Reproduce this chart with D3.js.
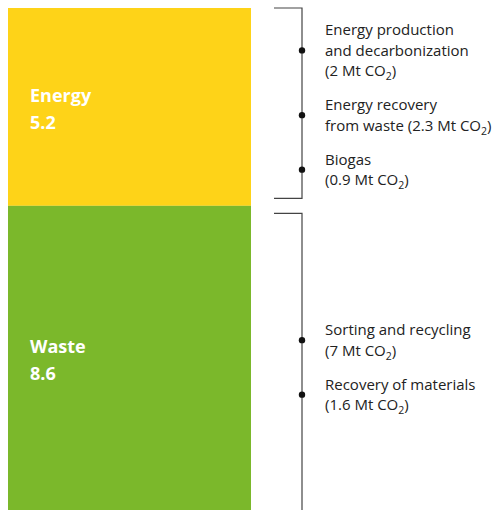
<!DOCTYPE html>
<html>
<head>
<meta charset="utf-8">
<script src="https://cdn.jsdelivr.net/npm/d3@7"></script>
<style>
  body { margin: 0; background: #fff; }
  svg { display: block; }
</style>
</head>
<body>
<div id="chart"></div>
<script>
// data
var categories = ["Energy", "Waste"];
var totals = [5.2, 8.6];
var colors = ["#fed318", "#7bb82b"];

var itemCategory = ["Energy", "Energy", "Energy", "Waste", "Waste"];
// "\n" marks a line break, the value text is appended at the end
var itemNames = [
  "Energy production\nand decarbonization\n",
  "Energy recovery\nfrom waste ",
  "Biogas\n",
  "Sorting and recycling\n",
  "Recovery of materials\n"
];
var itemValues = [2, 2.3, 0.9, 7, 1.6];

var width = 500, height = 510;
var barX = 8, barW = 243;
var bracketX0 = 274, bracketX1 = 302, textX = 325;
var lh = 20.5, blockStep = 34;

var svg = d3.select("#chart").append("svg")
  .attr("width", width)
  .attr("height", height);

// stacked segments
var stackEnd = d3.cumsum(totals);
var y = d3.scaleLinear()
  .domain([0, d3.sum(totals)])
  .range([8, 533]);

var segs = categories.map(function(c, i) {
  return {name: c, value: totals[i], y0: y(stackEnd[i] - totals[i]), y1: y(stackEnd[i]), color: colors[i], idx: i};
});

svg.append("g").selectAll("rect")
  .data(segs)
  .enter().append("rect")
  .attr("x", barX)
  .attr("y", function(d) { return d.y0; })
  .attr("width", barW)
  .attr("height", function(d) { return d.y1 - d.y0; })
  .attr("fill", function(d) { return d.color; });

// labels inside the bar, centered on the visible part
var inner = svg.append("g").selectAll("text")
  .data(segs)
  .enter().append("text")
  .attr("x", barX + 22)
  .attr("fill", "#fff")
  .style("font-family", "'Open Sans', sans-serif")
  .style("font-weight", 700)
  .style("font-size", "18px")
  .attr("y", function(d) {
    var mid = (d.y0 + Math.min(d.y1, height)) / 2;
    return mid - 5;
  });
inner.append("tspan").text(function(d) { return d.name; });
inner.append("tspan")
  .attr("x", barX + 22)
  .attr("dy", 27)
  .text(function(d) { return d3.format(".1f")(d.value); });

// brackets and item labels
segs.forEach(function(s, i) {
  var top = s.y0 + (i > 0 ? 7.5 : 0);
  var bot = Math.min(s.y1 - (i < segs.length - 1 ? 7.5 : 0), height + 2);
  var g = svg.append("g");

  var path = d3.path();
  path.moveTo(bracketX0, top);
  path.lineTo(bracketX1, top);
  path.lineTo(bracketX1, bot);
  if (bot < height) path.lineTo(bracketX0, bot);
  g.append("path")
    .attr("d", path.toString())
    .attr("fill", "none")
    .attr("stroke", "#444")
    .attr("stroke-width", 1.2);

  // line layout for this category
  var items = [];
  itemNames.forEach(function(n, k) {
    if (itemCategory[k] === s.name) {
      var full = n + "(" + itemValues[k] + " Mt CO2)";
      items.push(full.split("\n"));
    }
  });
  var pos = 0, blocks = [];
  items.forEach(function(lines, b) {
    if (b > 0) pos += blockStep;
    var ys = [];
    lines.forEach(function(l, j) {
      if (j > 0) pos += lh;
      ys.push(pos);
    });
    blocks.push({lines: lines, ys: ys});
  });
  var shift = (s.y0 + s.y1) / 2 - pos / 2 - 2;

  blocks.forEach(function(b) {
    var cy = (b.ys[0] + b.ys[b.ys.length - 1]) / 2 + shift;
    g.append("circle")
      .attr("cx", bracketX1)
      .attr("cy", cy)
      .attr("r", 3.2)
      .attr("fill", "#111");

    b.lines.forEach(function(l, j) {
      var t = g.append("text")
        .attr("x", textX)
        .attr("y", b.ys[j] + shift + 5.5)
        .attr("fill", "#222")
        .style("font-family", "'Open Sans', sans-serif")
        .style("font-size", "15px");
      var parts = l.split("CO2");
      t.append("tspan").text(parts[0]);
      if (parts.length > 1) {
        t.append("tspan").text("CO");
        t.append("tspan")
          .attr("dy", 4)
          .style("font-size", "10.5px")
          .text("2");
        t.append("tspan").attr("dy", -4).text(parts[1]);
      }
    });
  });
});
</script>
</body>
</html>
